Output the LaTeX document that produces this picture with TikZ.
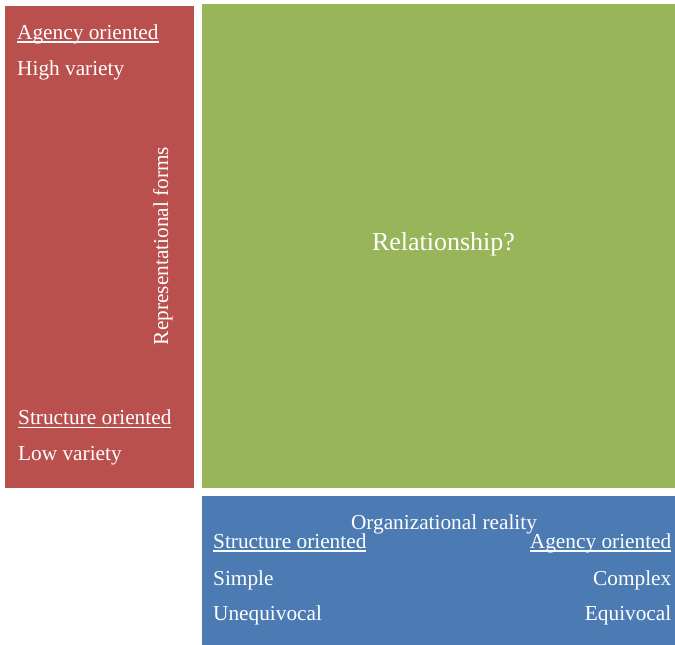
\documentclass[tikz,border=0pt]{standalone}
\usepackage{fontspec}
\setmainfont{Liberation Serif}
\definecolor{repred}{RGB}{186, 80, 77}
\definecolor{relgreen}{RGB}{152, 181, 89}
\definecolor{orgblue}{RGB}{76, 123, 180}
\usetikzlibrary{positioning}
\newcommand{\ulbar}[1]{\leavevmode\setbox0\hbox{#1}\rlap{\rule[-3.8pt]{\wd0}{1.5pt}}\box0}
\tikzset{
  panel/.style={inner sep=0pt, outer sep=0pt, draw=none},
  lbl/.style={text=white, inner sep=0pt, font=\fontsize{21.3}{25}\selectfont},
}

\begin{document}
\begin{tikzpicture}[x=1pt, y=1pt]
  \useasboundingbox (0,0) rectangle (675,-645);

  % Panels
  \node[panel, fill=repred, minimum width=189pt, minimum height=482pt] (reppanel) at (99.5,-247) {};
  \node[panel, fill=relgreen, minimum width=473pt, minimum height=484pt] (relpanel) at (438.5,-246) {};
  \node[panel, fill=orgblue, minimum width=473pt, minimum height=149pt] (orgpanel) at (438.5,-570.5) {};

  % Representational forms
  \node[lbl, anchor=base west] (repagency) at (17,-39) {\ulbar{Agency oriented}};
  \node[lbl, anchor=base west] (rephigh) at (17,-75) {High variety};
  \node[lbl, anchor=base west] (repstruct) at (18,-424.5) {\ulbar{Structure oriented}};
  \node[lbl, anchor=base west] (replow) at (18,-460.5) {Low variety};
  \node[lbl, anchor=base, rotate=90] (reptitle) at (168,-246) {Representational forms};

  % Relationship
  \node[lbl, anchor=base, font=\fontsize{26}{30}\selectfont] (reltitle) at (443.5,-250) {Relationship?};

  % Organizational reality
  \node[lbl, anchor=base] (orgtitle) at (444,-529.5) {Organizational reality};
  \node[lbl, anchor=base west] (orgstruct) at (213,-548) {\ulbar{Structure oriented}};
  \node[lbl, anchor=base west] (orgsimple) at (213,-585) {Simple};
  \node[lbl, anchor=base west] (orgunequ) at (213,-620.5) {Unequivocal};
  \node[lbl, anchor=base east] (orgagency) at (671.5,-548) {\ulbar{Agency oriented}};
  \node[lbl, anchor=base east] (orgcomplex) at (671.5,-585) {Complex};
  \node[lbl, anchor=base east] (orgequ) at (671.5,-620.5) {Equivocal};
\end{tikzpicture}
\end{document}
